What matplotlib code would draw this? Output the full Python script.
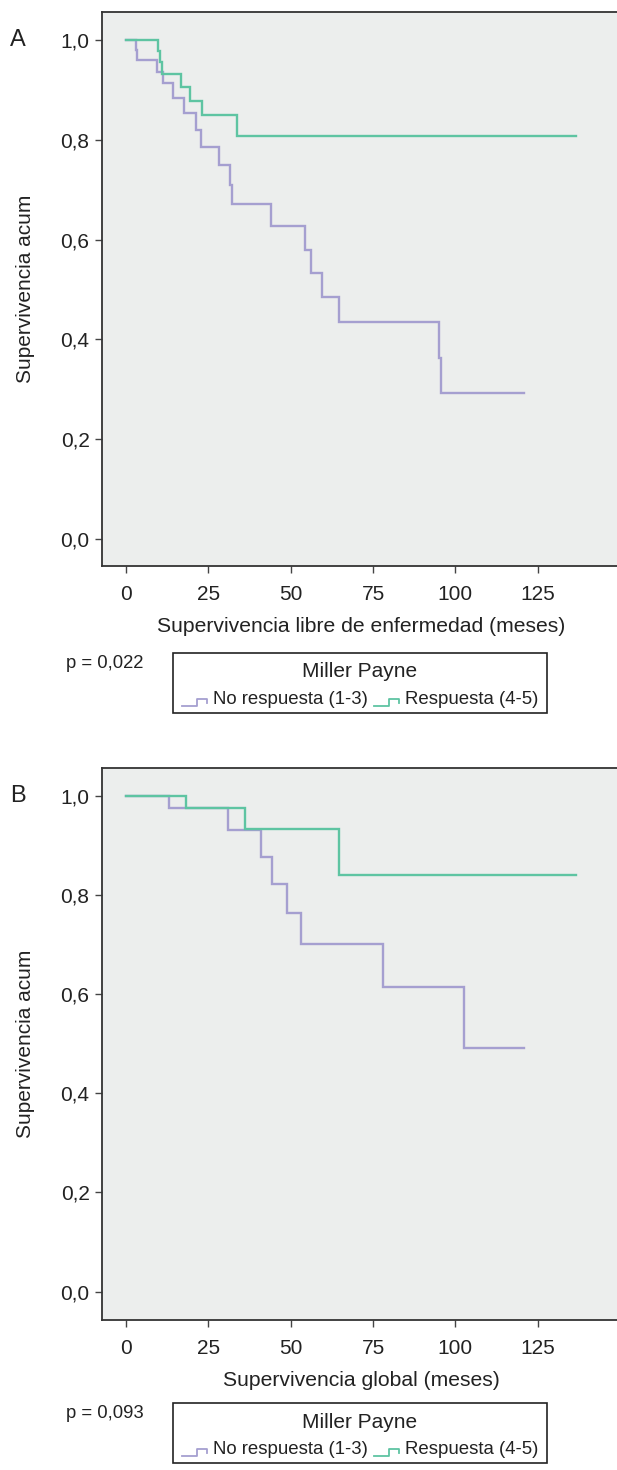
import matplotlib
matplotlib.use("Agg")
import matplotlib.pyplot as plt
from matplotlib.patches import Rectangle
from matplotlib.lines import Line2D

plt.rcParams['font.family'] = ['Liberation Sans', 'DejaVu Sans']

# Panel A: supervivencia libre de enfermedad
a_no_t = [0, 3.0, 3.2, 9.5, 11.3, 14.2, 17.7, 21.2, 22.8, 28.1, 31.6, 32.1,
          44.0, 54.3, 56.1, 59.5, 64.7, 95.1, 95.6, 120.8]
a_no_s = [1.0, 0.980, 0.959, 0.936, 0.913, 0.883, 0.854, 0.819, 0.785, 0.749,
          0.709, 0.671, 0.627, 0.580, 0.534, 0.484, 0.435, 0.362, 0.293, 0.293]
a_si_t = [0, 9.8, 10.3, 10.8, 16.7, 19.4, 23.1, 33.8, 136.5]
a_si_s = [1.0, 0.977, 0.955, 0.932, 0.906, 0.878, 0.849, 0.808, 0.808]

# Panel B: supervivencia global
b_no_t = [0, 12.9, 31.1, 41.0, 44.2, 49.0, 53.2, 77.9, 102.6, 120.9]
b_no_s = [1.0, 0.975, 0.931, 0.876, 0.821, 0.764, 0.701, 0.614, 0.492, 0.492]
b_si_t = [0, 18.1, 36.0, 64.6, 136.5]
b_si_s = [1.0, 0.975, 0.932, 0.8395, 0.8395]

xticks = [0, 25, 50, 75, 100, 125]
yticks = [0.0, 0.2, 0.4, 0.6, 0.8, 1.0]
ytick_labels = ['0,0', '0,2', '0,4', '0,6', '0,8', '1,0']
group_labels = ['No respuesta (1-3)', 'Respuesta (4-5)']
legend_title = 'Miller Payne'

c_no = '#a59fd0'
c_si = '#5ec4a2'
bg = '#eceeed'
dark = '#222222'

W, H = 617, 1470
fig = plt.figure(figsize=(W / 100, H / 100), dpi=100)


def fx(px):
    return px / W


def fy(py):
    return 1 - py / H


def panel(top, bottom, letter, xlabel, pval, no_t, no_s, si_t, si_s, ylo, yhi, leg_top):
    ax = fig.add_axes([fx(102), fy(bottom), fx(620) - fx(102), fy(top) - fy(bottom)])
    ax.set_facecolor(bg)
    ax.step(no_t, no_s, where='post', color=c_no, lw=1.7, solid_joinstyle='miter')
    ax.step(si_t, si_s, where='post', color=c_si, lw=1.7, solid_joinstyle='miter')
    ax.set_xlim(-7.3, 150)
    ax.set_ylim(ylo, yhi)
    ax.set_xticks(xticks)
    ax.set_yticks(yticks)
    ax.set_yticklabels(ytick_labels)
    ax.tick_params(direction='out', length=5, width=1.0, color='#444444',
                   labelsize=15, labelcolor=dark)
    ax.tick_params(axis='x', pad=9)
    ax.tick_params(axis='y', pad=4)
    for s in ['left', 'bottom', 'top']:
        ax.spines[s].set_color('#333333')
        ax.spines[s].set_linewidth(1.3)
    ax.spines['right'].set_visible(False)
    ax.set_xlabel(xlabel, fontsize=15.2, color=dark, labelpad=9)
    ax.set_ylabel('Supervivencia acum', fontsize=15, color=dark, labelpad=18)

    fig.text(fx(10), fy(top + 28), letter, fontsize=17, color=dark, va='center', ha='left')
    fig.text(fx(66), fy(leg_top + 10.5), pval, fontsize=13.3, color=dark, va='center', ha='left')

    # legend box
    lx0, lx1 = 173, 547
    lb = leg_top + 60
    fig.patches.append(Rectangle((fx(lx0), fy(lb)), fx(lx1) - fx(lx0), fy(leg_top) - fy(lb),
                                 transform=fig.transFigure, facecolor='white',
                                 edgecolor=dark, lw=1.2))
    fig.text(fx((lx0 + lx1) / 2), fy(leg_top + 19), legend_title, fontsize=15,
             color=dark, ha='center', va='center')
    row = leg_top + 47
    for hx, tx, col, lab in [(182, 213, c_no, group_labels[0]), (374, 405, c_si, group_labels[1])]:
        xs = [hx, hx + 15, hx + 15, hx + 25, hx + 25]
        ys = [row + 6, row + 6, row - 1, row - 1, row + 3]
        fig.lines.append(Line2D([fx(v) for v in xs], [fy(v) for v in ys],
                                transform=fig.transFigure, color=col, lw=1.3))
        fig.text(fx(tx), fy(row), lab, fontsize=13.4, color=dark, ha='left', va='center')
    return ax


panel(12, 566, 'A', 'Supervivencia libre de enfermedad (meses)', 'p = 0,022',
      a_no_t, a_no_s, a_si_t, a_si_s, -0.0541, 1.0561, 653)
panel(768, 1320, 'B', 'Supervivencia global (meses)', 'p = 0,093',
      b_no_t, b_no_s, b_si_t, b_si_s, -0.057, 1.0556, 1403)

fig.savefig('out.png', dpi=100)
